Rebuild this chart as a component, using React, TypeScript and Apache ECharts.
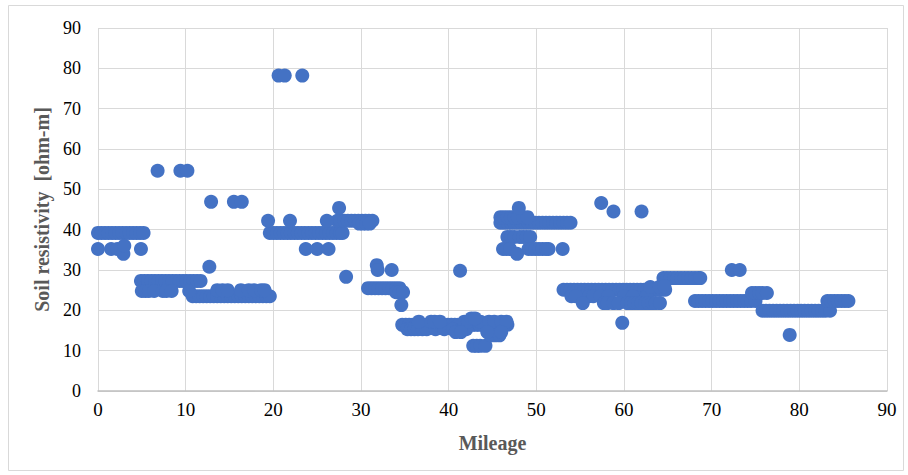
import React, { useEffect, useRef } from "react";
import * as echarts from "echarts";

// Mileage positions of the dense horizontal bands, with their resistivity level
const band39a = [0, 0.4, 0.8, 1.2, 1.6, 2, 2.4, 2.8, 3.2, 3.6, 4, 4.4, 4.8, 5.2];
const band27 = [4.9, 5.3, 5.7, 6.1, 6.5, 6.9, 7.3, 7.7, 8.1, 8.5, 8.9, 9.3, 9.7, 10.1, 10.5, 10.9, 11.3, 11.7];
const band23 = [10.8, 11.2, 11.6, 12, 12.4, 12.8, 13.2, 13.6, 14, 14.4, 14.8, 15.2, 15.6, 16, 16.4, 16.8, 17.2, 17.6, 18, 18.4, 18.8, 19.2, 19.6];
const band39b = [19.6, 20, 20.4, 20.8, 21.2, 21.6, 22, 22.4, 22.8, 23.2, 23.6, 24, 24.4, 24.8, 25.2, 25.6, 26, 26.4, 26.8, 27.2, 27.6, 27.9];
const band42 = [27.3, 27.7, 28.1, 28.5, 28.9, 29.3, 29.7, 30.1, 30.5, 30.9, 31.3];
const band25a = [30.8, 31.2, 31.6, 32, 32.4, 32.8, 33.2, 33.6, 34, 34.4];
const band16 = [34.7, 35.1, 35.5, 35.9, 36.3, 36.7, 37.1, 37.5, 37.9, 38.3, 38.7, 39.1, 39.5, 39.9, 40.3, 40.7, 41.1, 41.5, 41.9, 42.3, 42.7, 43.1, 43.5, 43.9, 44.3, 44.7, 45.1, 45.5, 45.9, 46.3, 46.7];
const band41 = [45.9, 46.3, 46.7, 47.1, 47.5, 47.9, 48.3, 48.7, 49.1, 49.5, 49.9, 50.3, 50.7, 51.1, 51.5, 51.9, 52.3, 52.7, 53.1, 53.5, 53.9];
const band25b = [53.1, 53.5, 53.9, 54.3, 54.7, 55.1, 55.5, 55.9, 56.3, 56.7, 57.1, 57.5, 57.9, 58.3, 58.7, 59.1, 59.5, 59.9, 60.3, 60.7, 61.1, 61.5, 61.9, 62.3, 62.7, 63.1, 63.5, 63.9, 64.3, 64.7];
const band28 = [64.5, 64.9, 65.3, 65.7, 66.1, 66.5, 66.9, 67.3, 67.7, 68.1, 68.5, 68.7];
const band22a = [68.1, 68.5, 68.9, 69.3, 69.7, 70.1, 70.5, 70.9, 71.3, 71.7, 72.1, 72.5, 72.9, 73.3, 73.7, 74.1, 74.5, 75];
const band24 = [74.6, 75, 75.4, 75.8, 76.3];
const band20 = [75.8, 76.2, 76.6, 77, 77.4, 77.8, 78.2, 78.6, 79, 79.4, 79.8, 80.2, 80.6, 81, 81.4, 81.8, 82.2, 82.6, 83, 83.5];
const band22b = [83.2, 83.6, 84, 84.4, 84.8, 85.2, 85.6];

const bandLevels: [number[], number][] = [
  [band39a, 39.2], [band27, 27.3], [band23, 23.5], [band39b, 39.2], [band42, 42.2],
  [band25a, 25.5], [band16, 16.4], [band41, 41.7], [band25b, 25.1], [band28, 28.0],
  [band22a, 22.3], [band24, 24.3], [band20, 19.9], [band22b, 22.3],
];

// Individual readings [mileage, resistivity]
const points0to20: number[][] = [
  [0, 35.2], [1.5, 35.2], [2.2, 35.2], [2.9, 34.0], [3.0, 36.0], [4.9, 35.2],
  [5.0, 24.8], [5.4, 24.8], [5.8, 24.8], [6.4, 24.8], [7.4, 24.8], [7.8, 24.8], [8.4, 24.8], [10.4, 24.8],
  [6.8, 54.6], [9.4, 54.6], [10.2, 54.6],
  [12.9, 46.9], [15.5, 46.9], [16.4, 46.9], [12.7, 30.8],
  [13.6, 25.0], [14.2, 25.0], [14.8, 25.0], [16.3, 25.0], [17.2, 25.0], [17.8, 25.0], [18.6, 25.0], [19.0, 25.0],
  [19.4, 42.2],
];
const points20to35: number[][] = [
  [20.6, 78.2], [21.3, 78.2], [23.3, 78.2],
  [21.9, 42.2], [26.1, 42.2],
  [23.7, 35.2], [25.0, 35.2], [26.3, 35.2],
  [27.5, 45.4], [28.3, 28.3],
  [29.8, 41.5], [30.2, 41.5], [30.6, 41.5], [31.0, 41.5],
  [31.8, 31.2], [31.9, 30.0], [33.5, 30.0],
  [34.0, 24.5], [34.4, 24.5], [34.8, 24.5], [34.6, 21.3],
];
const points35to47: number[][] = [
  [35.3, 15.3], [35.7, 15.3], [36.1, 15.3], [36.5, 15.3], [37.0, 15.3], [37.5, 15.3], [38.5, 15.3], [39.5, 15.3], [40.5, 15.3], [41.5, 15.3], [42.0, 15.3],
  [36.6, 17.2], [38.0, 17.2], [38.4, 17.2], [39.0, 17.2], [41.8, 17.2], [42.2, 17.2], [43.6, 17.2], [44.6, 17.2], [45.2, 17.2], [46.0, 17.2], [46.6, 17.2],
  [42.6, 18.0], [43.0, 18.0],
  [42.8, 11.2], [43.2, 11.2], [43.6, 11.2], [44.2, 11.2],
  [44.8, 13.8], [45.3, 13.8], [45.8, 13.8],
  [40.8, 14.6], [41.4, 14.6], [44.4, 14.6], [46.0, 14.6],
  [41.3, 29.8],
];
const points46to54: number[][] = [
  [45.9, 43.1], [46.3, 43.1], [46.7, 43.1], [47.1, 43.1], [47.5, 43.1], [47.9, 43.1], [48.5, 43.1], [49.0, 43.1],
  [48.0, 45.4],
  [46.7, 38.2], [47.1, 38.2], [47.5, 38.2], [48.1, 38.2], [48.5, 38.2], [48.9, 38.2], [49.3, 38.2],
  [46.2, 35.2], [46.6, 35.2], [47.0, 35.2], [49.1, 35.2], [49.5, 35.2], [49.9, 35.2], [50.3, 35.2], [50.7, 35.2], [51.1, 35.2], [51.4, 35.2], [53.0, 35.2],
  [47.8, 34.0],
];
const points54to90: number[][] = [
  [54.0, 23.5], [54.5, 23.5], [56.0, 23.5], [56.5, 23.5], [57.3, 23.5], [58.2, 23.5], [60.0, 23.5], [61.0, 23.5], [62.6, 23.5],
  [55.3, 21.8], [57.7, 21.8], [58.1, 21.8], [58.8, 21.8], [59.4, 21.8], [60.4, 21.8], [60.8, 21.8], [61.2, 21.8], [61.6, 21.8], [62.0, 21.8], [62.4, 21.8], [62.8, 21.8], [63.2, 21.8], [63.6, 21.8], [64.1, 21.8],
  [57.4, 46.6], [58.8, 44.5], [62.0, 44.5],
  [59.8, 16.9],
  [63.0, 25.8], [64.0, 25.8], [64.6, 26.0],
  [72.3, 30.0], [73.2, 30.0],
  [78.9, 13.9],
];

const xTicks = [0, 10, 20, 30, 40, 50, 60, 70, 80, 90];
const yTicks = [0, 10, 20, 30, 40, 50, 60, 70, 80, 90];

export default function App() {
  const ref = useRef<HTMLDivElement>(null);
  useEffect(() => {
    if (!ref.current) return;
    const chart = echarts.init(ref.current, null, { renderer: "svg" });
    const data: number[][] = [];
    bandLevels.forEach(([miles, level]) => miles.forEach((m) => data.push([m, level])));
    [points0to20, points20to35, points35to47, points46to54, points54to90].forEach((arr) =>
      arr.forEach((p) => data.push(p))
    );
    const serif = "'Liberation Serif', 'Times New Roman', serif";
    chart.setOption({
      animation: false,
      backgroundColor: "#ffffff",
      graphic: [
        {
          type: "rect",
          shape: { x: 8.5, y: 5.5, width: 895, height: 465 },
          style: { fill: "none", stroke: "#d9d9d9", lineWidth: 1 },
          silent: true,
        },
      ],
      grid: { left: 98, right: 21, top: 28, bottom: 84 },
      xAxis: {
        type: "value",
        min: xTicks[0],
        max: xTicks[xTicks.length - 1],
        interval: 10,
        name: "Mileage",
        nameLocation: "middle",
        nameGap: 42,
        nameTextStyle: { fontFamily: serif, fontWeight: "bold", fontSize: 20, color: "#595959" },
        axisLine: { show: true, lineStyle: { color: "#bfbfbf", width: 1.5 } },
        axisTick: { show: false },
        axisLabel: { fontFamily: serif, fontSize: 19, color: "#000000", margin: 9 },
        splitLine: { show: true, lineStyle: { color: "#d9d9d9", width: 1 } },
      },
      yAxis: {
        type: "value",
        min: yTicks[0],
        max: yTicks[yTicks.length - 1],
        interval: 10,
        name: "Soil resistivity  [ohm-m]",
        nameLocation: "middle",
        nameGap: 41,
        nameTextStyle: { fontFamily: serif, fontWeight: "bold", fontSize: 20, color: "#595959" },
        axisLine: { show: false },
        axisTick: { show: false },
        axisLabel: { fontFamily: serif, fontSize: 18, color: "#000000", margin: 17 },
        splitLine: { show: true, lineStyle: { color: "#d9d9d9", width: 1 } },
      },
      series: [
        {
          type: "scatter",
          data,
          symbol: "circle",
          symbolSize: 14,
          itemStyle: { color: "#4472C4", opacity: 1 },
        },
      ],
    });
    return () => chart.dispose();
  }, []);
  return (
    <div
      ref={ref}
      style={{ position: "fixed", left: 0, top: 0, width: 908, height: 475 }}
    />
  );
}
